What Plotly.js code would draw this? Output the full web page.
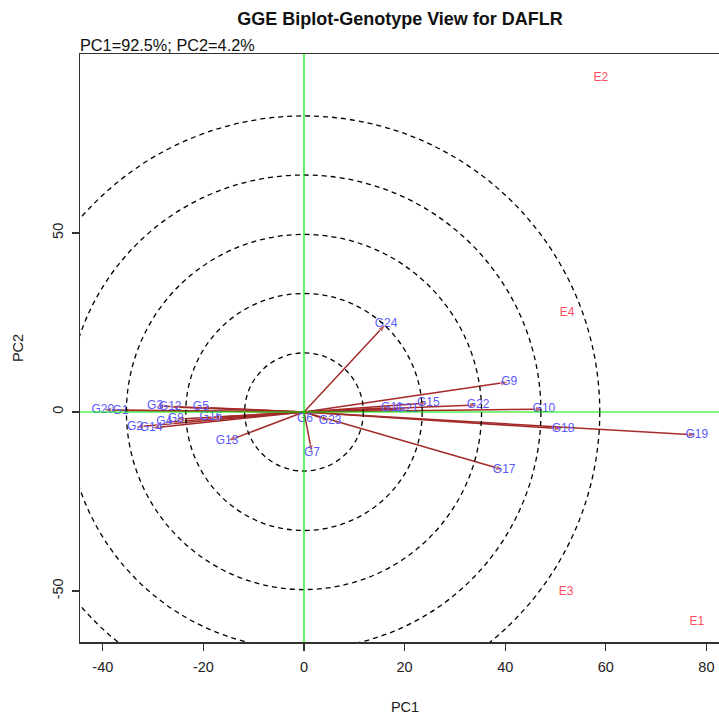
<!DOCTYPE html>
<html>
<head>
<meta charset="utf-8">
<script src="https://cdn.plot.ly/plotly-3.0.1.min.js"></script>
<style>
  html, body { margin: 0; padding: 0; overflow: hidden; background: #ffffff; }
  #chart { width: 730px; height: 715px; }
</style>
</head>
<body>
<div id="chart"></div>
<script>
// Genotype scores on the first two principal components
const genotypes = ['G1','G2','G3','G4','G5','G6','G7','G8','G9','G10','G11','G12',
                   'G13','G14','G15','G16','G17','G18','G19','G20','G21','G22','G23','G24'];
const genoPC1 = [-36.5, -33.6, -29.6, -27.8, -20.5, 0.2, 1.6, -25.5, 40.8, 47.7, 17.5, -26.6,
                 -15.3, -30.4, 24.7, -18.5, 39.8, 51.5, 78.1, -40.0, 20.5, 34.6, 5.2, 16.3];
const genoPC2 = [0.4, -4.2, 1.7, -2.9, 1.3, -2.0, -11.5, -2.0, 8.4, 0.8, 1.2, 1.4,
                 -8.1, -4.5, 2.5, -1.5, -16.2, -4.7, -6.4, 0.6, 0.8, 2.0, -2.5, 24.6];

// Environment scores
const environments = ['E1', 'E2', 'E3', 'E4'];
const envPC1 = [78.1, 59.0, 52.1, 52.3];
const envPC2 = [-58.7, 93.3, -50.3, 27.7];

// Concentric reference rings around the origin (radius along each axis)
const ringPC1 = [11.8, 23.5, 35.3, 47.1, 58.8];
const ringPC2 = [16.5, 33.1, 49.6, 66.2, 82.7];

const xTicks = [-40, -20, 0, 20, 40, 60, 80];
const yTicks = [-50, 0, 50];

const subtitle = 'PC1=92.5%; PC2=4.2%';
const mainTitle = 'GGE Biplot-Genotype View for DAFLR';

const arrowColor = '#a52a2a';
const font = 'Liberation Sans, Arial, sans-serif';

const traces = [];

// Vectors from the origin to each genotype
genotypes.forEach((g, i) => {
  traces.push({
    type: 'scatter',
    mode: 'lines+markers',
    x: [0, genoPC1[i]],
    y: [0, genoPC2[i]],
    line: { color: arrowColor, width: 1.5 },
    marker: { symbol: 'arrow', angleref: 'previous', size: [0, 9], color: arrowColor },
    hoverinfo: 'skip',
    showlegend: false
  });
});

// Genotype labels
traces.push({
  type: 'scatter',
  mode: 'text',
  x: genoPC1,
  y: genoPC2,
  text: genotypes,
  textposition: 'middle center',
  textfont: { family: font, size: 12, color: '#5a5aff' },
  hoverinfo: 'text',
  showlegend: false
});

// Environment labels
traces.push({
  type: 'scatter',
  mode: 'text',
  x: envPC1,
  y: envPC2,
  text: environments,
  textposition: 'middle center',
  textfont: { family: font, size: 12, color: '#ff4d5e' },
  hoverinfo: 'text',
  showlegend: false
});

const shapes = [];
ringPC1.forEach((rx, k) => {
  const ry = ringPC2[k];
  shapes.push({
    type: 'circle', xref: 'x', yref: 'y',
    x0: -rx, x1: rx, y0: -ry, y1: ry,
    line: { color: '#000000', width: 1.3, dash: '5px,4px' },
    layer: 'above'
  });
});
// Green axes through the origin
shapes.push({
  type: 'line', xref: 'x', yref: 'paper', x0: 0, x1: 0, y0: 0, y1: 1,
  line: { color: '#00ee00', width: 1.2 }, layer: 'above'
});
shapes.push({
  type: 'line', xref: 'paper', yref: 'y', x0: 0, x1: 1, y0: 0, y1: 0,
  line: { color: '#00ee00', width: 1.2 }, layer: 'above'
});

const layout = {
  width: 730,
  height: 715,
  autosize: false,
  margin: { l: 80, r: 0, t: 54, b: 73 },
  paper_bgcolor: '#ffffff',
  plot_bgcolor: '#ffffff',
  font: { family: font, color: '#222222' },
  title: {
    text: '<b>' + mainTitle + '</b>',
    font: { family: font, size: 18, color: '#111111' },
    xref: 'paper', x: (400 - 80) / 650, xanchor: 'center',
    yref: 'container', y: 1 - 19 / 715, yanchor: 'middle'
  },
  xaxis: {
    range: [-44.53, 84.69],
    tickvals: xTicks,
    ticktext: xTicks.map(String),
    ticks: 'outside', ticklen: 7, tickwidth: 1.2, tickcolor: '#333333',
    ticklabelstandoff: 4,
    tickfont: { family: font, size: 14.5, color: '#222222' },
    showline: true, mirror: true, linecolor: '#333333', linewidth: 1.5,
    showgrid: false, zeroline: false,
    title: { text: 'PC1', font: { family: font, size: 14.5, color: '#222222' }, standoff: 30 }
  },
  yaxis: {
    range: [-64.25, 100.0],
    tickvals: yTicks,
    ticktext: yTicks.map(String),
    tickangle: -90,
    ticks: 'outside', ticklen: 7, tickwidth: 1.2, tickcolor: '#333333',
    ticklabelstandoff: 3,
    tickfont: { family: font, size: 14.5, color: '#222222' },
    showline: true, mirror: true, linecolor: '#333333', linewidth: 1.5,
    showgrid: false, zeroline: false,
    title: { text: 'PC2', font: { family: font, size: 14.5, color: '#222222' }, standoff: 22 }
  },
  shapes: shapes,
  annotations: [{
    text: subtitle,
    xref: 'paper', yref: 'paper', x: 0, y: 1,
    xanchor: 'left', yanchor: 'bottom',
    showarrow: false, xshift: -2, yshift: -2,
    font: { family: font, size: 16.3, color: '#111111' }
  }]
};

Plotly.newPlot('chart', traces, layout, { displayModeBar: false, staticPlot: true });
</script>
</body>
</html>
